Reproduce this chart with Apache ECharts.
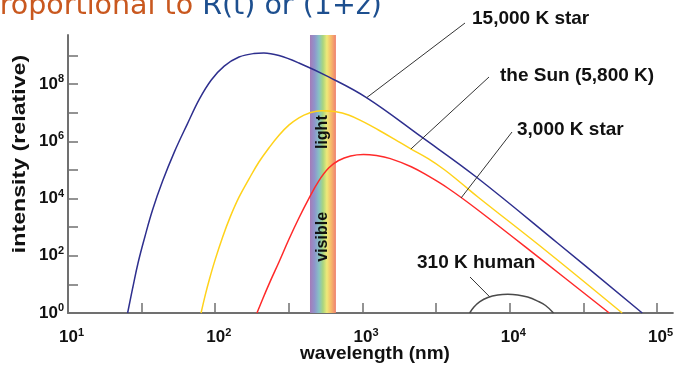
<!DOCTYPE html>
<html><head><meta charset="utf-8">
<script src="https://cdn.jsdelivr.net/npm/echarts@6/dist/echarts.min.js"></script>
<style>html,body{margin:0;padding:0;background:#fff;overflow:hidden}#c{width:676px;height:365px}</style>
</head><body><div id="c"></div>
<script>
// ---- data (wavelength in nm, relative intensity) ----
const star15000Wavelength = [25.4, 27.5, 29.9, 33.1, 37.5, 43.9, 52.8, 64.7, 78, 94, 115, 145, 183, 214, 271, 370, 589, 1064, 2503, 5893, 21100, 79400];
const star15000Intensity  = [1, 7.5, 56, 420, 4.0e3, 4.1e4, 4.3e5, 4.1e6, 3.0e7, 1.4e8, 4.3e8, 8.9e8, 1.18e9, 1.23e9, 1.0e9, 5.5e8, 1.8e8, 3.4e7, 1.46e6, 5.8e4, 280, 1];

const sunWavelength = [80.1, 85.6, 91.1, 100, 112, 126, 145, 170, 198, 232, 271, 316, 370, 432, 528, 647, 804, 1016, 1283, 1645, 2101, 2792, 3622, 4666, 6077, 18060, 58000];
const sunIntensity  = [1, 4.3, 14.6, 75, 440, 2.2e3, 1.12e4, 5.0e4, 1.9e5, 6.0e5, 1.65e6, 3.7e6, 6.7e6, 9.7e6, 1.19e7, 1.1e7, 8.4e6, 4.8e6, 2.5e6, 1.2e6, 5.7e5, 2.5e5, 1.0e5, 3.5e4, 1.14e4, 136, 1];

const star3000Wavelength = [192, 211, 235, 271, 316, 370, 432, 504, 589, 688, 830, 1016, 1243, 1546, 2143, 2792, 3811, 6077, 16710, 47400];
const star3000Intensity  = [1, 3.3, 12, 61, 372, 2.1e3, 1.0e4, 4.1e4, 1.17e5, 2.15e5, 3.1e5, 3.5e5, 3.2e5, 2.5e5, 1.3e5, 6.2e4, 2.3e4, 4.0e3, 69, 1];

const humanWavelength = [5343, 5714, 6270, 7101, 8297, 9694, 11330, 13230, 15460, 17510, 19830];
const humanIntensity  = [1, 1.62, 2.5, 3.5, 4.26, 4.5, 4.26, 3.6, 2.6, 1.83, 1];

const visibleRange = [440, 660];           // nm
const xTickExponents = [1, 1.5, 2, 2.5, 3, 3.5, 4, 4.5, 5];
const xLabelExponents = [1, 2, 3, 4, 5];
const yTickExponents = [0, 1, 2, 3, 4, 5, 6, 7, 8, 9];
const yLabelExponents = [0, 2, 4, 6, 8];
const seriesNames = ['15,000 K star', 'the Sun (5,800 K)', '3,000 K star', '310 K human'];
// annotation anchors on curves: [wavelength, intensity]
const leaderAnchors = [[1069, 3.4e7], [2130, 5.4e5], [4670, 1.05e4], [7300, 3.7]];

// ---- chart ----
const FONT = '"Liberation Sans", Arial, Helvetica, sans-serif';
const lg = v => Math.log10(v);
const toXY = (w, I) => w.map((x, i) => [lg(x), lg(I[i])]);

const chart = echarts.init(document.getElementById('c'), null, {renderer: 'canvas'});
const axisColor = '#707070';
const richBase = {
  b: {fontFamily: FONT, fontWeight: 'bold', fontSize: 17, color: '#111'},
  s: {fontFamily: FONT, fontWeight: 'bold', fontSize: 11, color: '#111', padding: [0, 0, 10, 0]}
};
const richX = {
  b: Object.assign({}, richBase.b, {padding: [0, 0, 0, 7]}),
  s: richBase.s
};

const lineSeries = (name, w, I, color) => ({
  type: 'line', name, data: toXY(w, I), showSymbol: false, smooth: 0.4,
  lineStyle: {color, width: 1.5}, z: 3, silent: true
});

chart.setOption({
  animation: false,
  grid: {left: 68, top: 35, width: 608, height: 278},
  xAxis: {
    type: 'value', min: 1, max: 5.108, interval: 0.5,
    axisLine: {lineStyle: {color: axisColor, width: 2}},
    axisTick: {inside: true, length: 10, customValues: xTickExponents, lineStyle: {color: axisColor, width: 1.5}},
    axisLabel: {customValues: xLabelExponents, margin: 14, formatter: v => '{b|10}{s|' + Math.round(v) + '}', rich: richX},
    splitLine: {show: false}
  },
  yAxis: {
    type: 'value', min: 0, max: 9.72, interval: 1,
    axisLine: {lineStyle: {color: axisColor, width: 2}},
    axisTick: {inside: true, length: 10, customValues: yTickExponents, lineStyle: {color: axisColor, width: 1.5}},
    axisLabel: {customValues: yLabelExponents, margin: 4, formatter: v => '{b|10}{s|' + Math.round(v) + '}', rich: richBase},
    splitLine: {show: false}
  },
  series: [
    lineSeries(seriesNames[0], star15000Wavelength, star15000Intensity, '#2e2f8e'),
    lineSeries(seriesNames[1], sunWavelength, sunIntensity, '#ffd21a'),
    lineSeries(seriesNames[2], star3000Wavelength, star3000Intensity, '#ff2a2a'),
    lineSeries(seriesNames[3], humanWavelength, humanIntensity, '#4a4a4a'),
    {
      type: 'line', data: [], z: 6, silent: true,
      markArea: {
        silent: true,
        label: {show: false},
        itemStyle: {
          color: new echarts.graphic.LinearGradient(0, 0, 1, 0, [
            {offset: 0.0, color: '#a57cb8'},
            {offset: 0.18, color: '#8f95cc'},
            {offset: 0.35, color: '#86c3c4'},
            {offset: 0.5, color: '#a9d57f'},
            {offset: 0.65, color: '#eee978'},
            {offset: 0.82, color: '#f6b86a'},
            {offset: 1.0, color: '#ef8070'}
          ])
        },
        data: [[{xAxis: lg(visibleRange[0]), yAxis: 0}, {xAxis: lg(visibleRange[1]), yAxis: 9.72}]]
      }
    }
  ]
});

// ---- annotations ----
const px = (w, I) => chart.convertToPixel({gridIndex: 0}, [lg(w), lg(I)]);
const labelFont = 'bold 19px ' + FONT;
const labels = [
  {text: seriesNames[0], x: 472, y: 19, end: [465, 23]},
  {text: seriesNames[1], x: 500, y: 76, end: [489, 77]},
  {text: seriesNames[2], x: 517, y: 130, end: [512, 132]},
  {text: seriesNames[3], x: 417, y: 263, end: [470, 277]}
];
const graphics = [];
labels.forEach((l, i) => {
  const p = px(leaderAnchors[i][0], leaderAnchors[i][1]);
  graphics.push({type: 'line', z: 8, silent: true, shape: {x1: l.end[0], y1: l.end[1], x2: p[0], y2: p[1]}, style: {stroke: '#333', lineWidth: 1}});
  graphics.push({type: 'text', z: 8, silent: true, style: {text: l.text, x: l.x, y: l.y, font: labelFont, fill: '#111', align: 'left', verticalAlign: 'middle'}});
});
const bandCx = px(Math.sqrt(visibleRange[0] * visibleRange[1]), 1)[0];
graphics.push({type: 'text', z: 9, silent: true, x: bandCx, y: px(500, 2.1e6)[1], rotation: Math.PI / 2,
  style: {text: 'light', x: 0, y: 0, font: 'bold 16px ' + FONT, fill: '#111', align: 'center', verticalAlign: 'middle'}});
graphics.push({type: 'text', z: 9, silent: true, x: bandCx, y: px(500, 4.6e2)[1], rotation: Math.PI / 2,
  style: {text: 'visible', x: 0, y: 0, font: 'bold 16px ' + FONT, fill: '#111', align: 'center', verticalAlign: 'middle'}});
// axis names
graphics.push({type: 'text', z: 9, silent: true, x: 20, y: 154, rotation: Math.PI / 2, scaleX: 1.22,
  style: {text: 'intensity (relative)', x: 0, y: 0, font: 'bold 19px ' + FONT, fill: '#111', align: 'center', verticalAlign: 'middle'}});
graphics.push({type: 'text', z: 9, silent: true,
  style: {text: 'wavelength (nm)', x: 375, y: 354, font: 'bold 19px ' + FONT, fill: '#111', align: 'center', verticalAlign: 'middle'}});
// clipped slide title at the top
graphics.push({type: 'text', z: 9, silent: true,
  style: {text: '{a|Proportional to }{b|R(t) or (1+z)}', x: -17, y: 7, align: 'left', verticalAlign: 'middle',
    rich: {a: {font: '28.5px "DejaVu Sans", sans-serif', fill: '#c9581f'}, b: {font: '28.5px "DejaVu Sans", sans-serif', fill: '#1d4f8f'}}}});
chart.setOption({graphic: graphics});
</script>
</body></html>
